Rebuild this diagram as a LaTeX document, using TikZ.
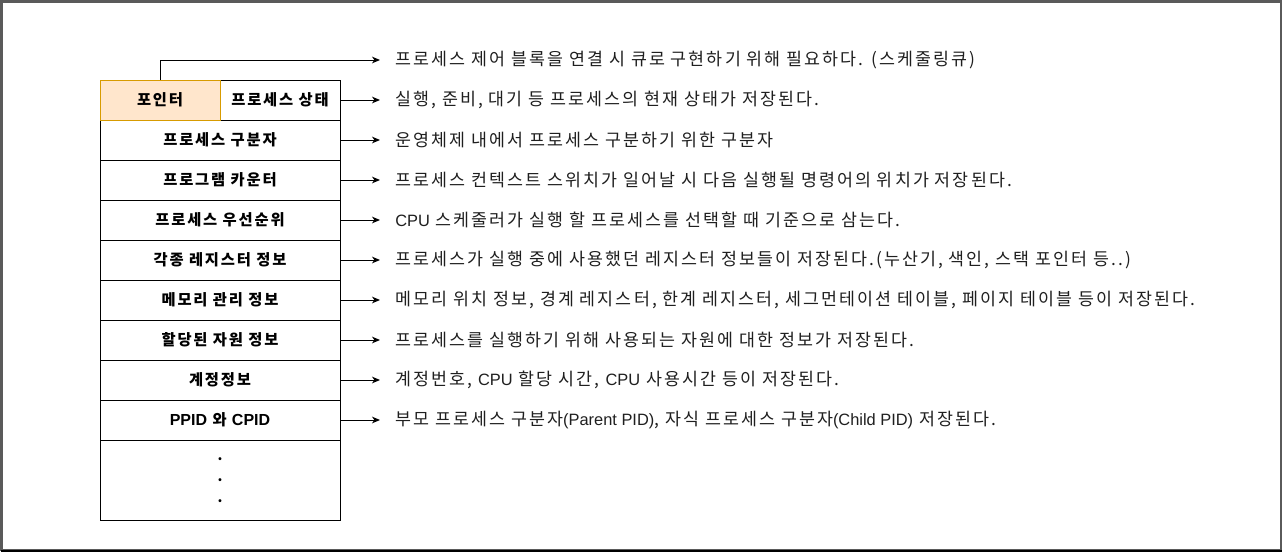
\documentclass[tikz,border=0pt]{standalone}
\usepackage{fontspec}
\setmainfont{Noto Sans CJK KR}
\newfontfamily\descfont[LetterSpace=12]{Noto Sans CJK KR}
\newfontfamily\labfont[LetterSpace=12]{Noto Sans CJK KR}
\newfontfamily\latfont{Liberation Sans}
\newcommand\enx[1]{{\latfont\fontsize{12.3pt}{15pt}\selectfont #1}}
\newcommand\enb[1]{{\latfont\fontsize{12pt}{15pt}\selectfont\bfseries #1}}
\usetikzlibrary{arrows.meta}
\definecolor{ptrfill}{HTML}{FFE6CC}
\definecolor{ptrdraw}{HTML}{D79B00}
\definecolor{framegray}{HTML}{5A5A5A}
\begin{document}
\begin{tikzpicture}[x=0.75pt,y=-0.75pt,
  cell/.style={draw=black,line width=0.75pt,fill=white,minimum height=30pt,inner sep=0pt,font=\labfont\fontsize{11.5pt}{13pt}\selectfont\bfseries},
  wide/.style={cell,minimum width=180pt},
  half/.style={cell,minimum width=90pt},
  desc/.style={anchor=west,inner sep=0pt,font=\descfont\fontsize{13pt}{15pt}\selectfont,text=black!88},
  conn/.style={line width=0.75pt,-{Stealth[length=6pt,width=5pt,inset=1.8pt]}}]
\useasboundingbox (0,0) rectangle (1283,553);
\fill[white] (0,0) rectangle (1283,553);
% outer frame
\draw[framegray,line width=1.5pt] (1.5,1.5) rectangle (1280.5,549.5);
\draw[black,line width=1.5pt] (1,550.5) -- (1282,550.5);
% table
\node[half,fill=ptrfill,draw=ptrdraw] (ptr) at (160,100) {포인터};
\node[half] (state) at (280,100) {프로세스 상태};
\node[wide] (r1) at (220,140) {프로세스 구분자};
\node[wide] (r2) at (220,180) {프로그램 카운터};
\node[wide] (r3) at (220,220) {프로세스 우선순위};
\node[wide] (r4) at (220,260) {각종 레지스터 정보};
\node[wide] (r5) at (220,300) {메모리 관리 정보};
\node[wide] (r6) at (220,340) {할당된 자원 정보};
\node[wide] (r7) at (220,380) {계정정보};
\node[wide] (r8) at (220,420) {\enb{PPID} 와 \enb{CPID}};
\node[wide,minimum height=60pt,align=center,font=\fontsize{10.5pt}{15.75pt}\selectfont\bfseries] (r9) at (220,480) {.\\.\\.};
\draw[ptrdraw,line width=0.75pt] (100,80) rectangle (220,120);
% arrow endpoints
\coordinate (c0) at (380,60);
\coordinate (c1) at (380,100);
\coordinate (c2) at (380,140);
\coordinate (c3) at (380,180);
\coordinate (c4) at (380,220);
\coordinate (c5) at (380,260);
\coordinate (c6) at (380,300);
\coordinate (c7) at (380,340);
\coordinate (c8) at (380,380);
\coordinate (c9) at (380,420);
\draw[conn] (ptr.north) |- (c0);
\draw[conn] (state.east) -- (c1);
\draw[conn] (r1.east) -- (c2);
\draw[conn] (r2.east) -- (c3);
\draw[conn] (r3.east) -- (c4);
\draw[conn] (r4.east) -- (c5);
\draw[conn] (r5.east) -- (c6);
\draw[conn] (r6.east) -- (c7);
\draw[conn] (r7.east) -- (c8);
\draw[conn] (r8.east) -- (c9);
% descriptions
\node[desc] (t0) at (395,60) {프로세스 제어 블록을 연결 시 큐로 구현하기 위해 필요하다. (스케줄링큐)};
\node[desc] (t1) at (395,100) {실행, 준비, 대기 등 프로세스의 현재 상태가 저장된다.};
\node[desc] (t2) at (395,140) {운영체제 내에서 프로세스 구분하기 위한 구분자};
\node[desc] (t3) at (395,180) {프로세스 컨텍스트 스위치가 일어날 시 다음 실행될 명령어의 위치가 저장된다.};
\node[desc] (t4) at (395,220) {\enx{CPU} 스케줄러가 실행 할 프로세스를 선택할 때 기준으로 삼는다.};
\node[desc] (t5) at (395,260) {프로세스가 실행 중에 사용했던 레지스터 정보들이 저장된다.(누산기, 색인, 스택 포인터 등..)};
\node[desc] (t6) at (395,300) {메모리 위치 정보, 경계 레지스터, 한계 레지스터, 세그먼테이션 테이블, 페이지 테이블 등이 저장된다.};
\node[desc] (t7) at (395,340) {프로세스를 실행하기 위해 사용되는 자원에 대한 정보가 저장된다.};
\node[desc] (t8) at (395,380) {계정번호, \enx{CPU} 할당 시간, \enx{CPU} 사용시간 등이 저장된다.};
\node[desc] (t9) at (395,420) {부모 프로세스 구분자\enx{(Parent PID)}, 자식 프로세스 구분자\enx{(Child PID)} 저장된다.};
\end{tikzpicture}
\end{document}
